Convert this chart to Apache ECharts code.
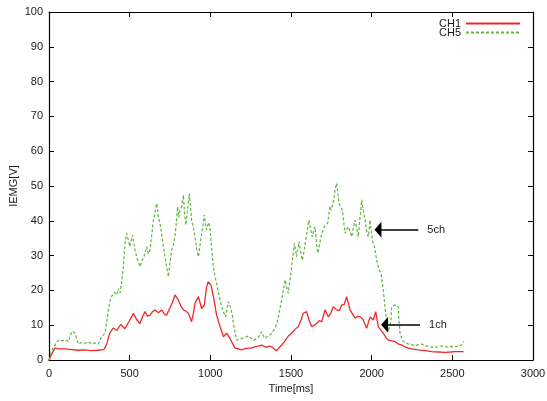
<!DOCTYPE html>
<html>
<head>
<meta charset="utf-8">
<script src="https://cdn.jsdelivr.net/npm/echarts@6/dist/echarts.min.js"></script>
<style>
  html, body { margin: 0; padding: 0; background: #fff; }
  #chart { width: 547px; height: 401px; }
</style>
</head>
<body>
<div id="chart"></div>
<script>
// Integrated EMG of two channels over time: [time (ms), IEMG (V)]
const ch1Samples = [
  [0,0],[20,2],[37,3.4],[60,3.2],[100,3.2],[140,3.0],[180,2.8],[220,2.9],[260,2.7],[300,2.8],
  [340,3.0],[357,4.5],[375,7.5],[397,9.2],[420,8.5],[445,10.2],[471,9.0],[495,11.0],[523,13.4],[545,11.5],
  [564,10.5],[580,12.5],[595,13.9],[610,12.6],[626,12.9],[640,13.8],[657,14.4],[678,13.6],[698,14.4],[715,13.2],
  [729,12.9],[740,14.0],[750,14.4],[765,16.5],[781,18.7],[802,17.2],[818,15.5],[833,14.4],[850,14.0],[864,13.4],
  [884,11.0],[895,13.5],[905,16.3],[926,18.2],[946,14.8],[963,15.8],[975,20.5],[986,22.5],[1004,21.6],[1019,18.2],
  [1039,12.9],[1060,9.6],[1081,6.7],[1101,7.7],[1122,6.2],[1140,4.5],[1153,3.4],[1175,3.2],[1194,2.9],[1215,3.3],
  [1236,3.4],[1256,3.5],[1277,3.8],[1298,4.0],[1318,4.3],[1335,3.9],[1349,3.6],[1365,4.0],[1380,3.8],[1395,3.2],
  [1411,2.7],[1426,3.5],[1442,4.3],[1458,5.2],[1473,6.2],[1490,7.2],[1504,7.7],[1525,8.8],[1545,9.6],[1560,11.2],
  [1576,13.4],[1597,13.9],[1612,11.5],[1628,9.6],[1645,10.0],[1659,10.5],[1675,11.3],[1690,11.0],[1711,14.4],[1731,12.4],
  [1747,13.5],[1762,15.3],[1783,14.4],[1800,14.2],[1814,15.8],[1830,16.0],[1845,18.2],[1866,14.4],[1882,13.2],[1897,12.0],
  [1912,12.6],[1928,12.4],[1945,11.8],[1969,9.1],[1990,12.4],[2010,11.5],[2025,13.9],[2041,9.6],[2058,8.5],[2072,7.7],
  [2088,6.5],[2103,5.7],[2125,5.5],[2145,5.3],[2165,4.6],[2186,4.3],[2206,3.8],[2227,3.4],[2258,3.1],[2289,2.9],
  [2330,2.7],[2372,2.4],[2414,2.3],[2455,2.2],[2490,2.3],[2517,2.4],[2545,2.4],[2570,2.4]
];

const ch5Samples = [
  [0,0],[20,3],[40,4.5],[58,5.7],[80,5.5],[99,5.9],[120,5.3],[135,7.5],[148,8.3],[161,7.7],
  [172,6.0],[182,4.6],[200,5.0],[223,4.8],[245,5.2],[264,4.6],[285,4.9],[306,4.6],[326,6.7],[347,7.7],
  [358,11],[368,14.4],[378,17],[388,18.2],[405,19.5],[419,18.7],[430,20.5],[440,19.2],[452,23],[461,26.8],
  [471,33.5],[481,36.4],[492,36.4],[502,32.6],[517,35.9],[533,31.6],[548,29],[564,26.8],[575,28.5],[585,29.2],
  [596,31],[606,32.6],[616,30.5],[626,31.6],[637,36],[647,40.2],[657,42.5],[668,45.0],[678,41],[688,39.3],
  [699,36],[709,32.6],[725,28],[740,23.9],[750,28],[760,31.6],[770,33],[781,35.4],[790,40],[797,44.1],
  [805,41],[812,43.1],[822,44],[833,47.4],[840,42],[849,38.8],[858,43],[870,47.9],[877,44],[884,40.2],
  [895,38],[905,35.4],[915,32],[926,29.7],[936,33],[946,36.4],[955,39],[963,41.7],[970,39],[977,37.4],
  [988,39.5],[998,38.3],[1008,32],[1019,26.8],[1029,24],[1039,22.0],[1050,19.5],[1060,17.2],[1070,15.5],[1081,13.9],
  [1089,13],[1095,12.4],[1103,14.5],[1112,16.8],[1120,16],[1128,15.8],[1136,13],[1143,10.5],[1153,8],[1163,5.7],
  [1178,6.0],[1194,6.2],[1215,6.5],[1236,6.9],[1250,6.3],[1267,5.7],[1283,6.0],[1298,6.5],[1310,7.4],[1318,8.1],
  [1328,7],[1339,6.2],[1355,6.8],[1370,7.2],[1385,8],[1401,9.1],[1412,10.5],[1422,12.4],[1432,15],[1442,17.2],
  [1452,20],[1463,23.0],[1473,21],[1483,19.2],[1494,23],[1504,26.8],[1512,30],[1521,33.5],[1535,29.7],[1550,34.0],
  [1560,31],[1570,28.7],[1580,31],[1591,34.5],[1600,37],[1611,40.2],[1622,37.5],[1632,35.4],[1640,37],[1649,38.3],
  [1657,34],[1666,30.7],[1676,33],[1686,35.4],[1696,37],[1706,38.3],[1717,38.5],[1727,39.3],[1735,42],[1742,44.1],
  [1749,43],[1756,43.1],[1765,46],[1773,48.9],[1783,50.8],[1790,48],[1798,45.0],[1808,44],[1818,43.1],[1826,40],
  [1835,36.4],[1845,37.5],[1855,38.3],[1866,37],[1876,35.4],[1887,38],[1897,40.2],[1907,38],[1917,35.4],[1928,41],
  [1938,46.0],[1948,43],[1959,40.2],[1969,37],[1979,35.4],[1990,40.2],[2004,34.5],[2017,32.6],[2031,28.7],[2046,25.9],
  [2058,24.9],[2065,22.5],[2072,20.1],[2080,16.5],[2087,13.4],[2095,10.5],[2103,8.1],[2114,7.7],[2119,11],[2124,15.3],
  [2135,15.6],[2145,15.8],[2155,15.6],[2165,15.3],[2170,11],[2176,7.7],[2186,6.2],[2196,5.3],[2210,5.0],[2227,4.6],
  [2248,4.4],[2269,4.1],[2290,4.4],[2310,4.6],[2330,4.2],[2351,3.8],[2372,3.7],[2393,3.6],[2414,3.9],[2434,4.0],
  [2455,3.8],[2475,3.8],[2496,3.9],[2517,3.8],[2538,4.0],[2558,4.3],[2570,5.3]
];

const seriesNames = ['CH1', 'CH5'];
const xTicks = { min: 0, max: 3000, step: 500 };
const yTicks = { min: 0, max: 100, step: 10 };

// Annotation arrows: [label, tail point, head point]
const annotations = [
  ['5ch', [2289, 37.4], [2039, 37.4]],
  ['1ch', [2300, 10.1], [2080, 10.1]]
];

const FONT = 'Liberation Sans, Arial, Helvetica, sans-serif';
const INK = '#1a1a1a';
const RED = '#f02828';
const GREEN = '#62b43c';

function frameAxis(pos, isX, withLabels, name) {
  const t = isX ? xTicks : yTicks;
  return {
    type: 'value',
    position: pos,
    min: t.min, max: t.max, interval: t.step,
    name: withLabels ? name : '',
    nameLocation: 'middle',
    nameGap: isX ? 23 : 30,
    nameMoveOverlap: false,
    nameTextStyle: { fontFamily: FONT, fontSize: 11, color: INK },
    axisLine: { show: true, onZero: false, lineStyle: { color: '#000', width: 1.2 } },
    axisTick: { show: true, inside: true, length: 5, lineStyle: { color: '#000', width: 1 } },
    axisLabel: {
      show: withLabels, fontFamily: FONT, fontSize: 11, color: INK,
      margin: isX ? 8 : 6,
      formatter: (v) => String(v)
    },
    splitLine: { show: false }
  };
}

function arrowLine(label, tail, head) {
  return [
    { coord: tail, label: { formatter: label } },
    { coord: head }
  ];
}

function arrowMarks(annotation) {
  return {
    silent: true,
    symbol: ['none', 'path://M0,10 L5,0 L10,10 Z'],
    symbolSize: [16, 7],
    lineStyle: { color: '#000', type: 'solid', width: 1.5 },
    itemStyle: { color: '#000' },
    label: { show: true, position: 'start', distance: 9, fontFamily: FONT, fontSize: 11, color: INK },
    data: [arrowLine(...annotation)]
  };
}

const chart = echarts.init(document.getElementById('chart'), null, { renderer: 'canvas' });

chart.setOption({
  animation: false,
  backgroundColor: '#fff',
  grid: { left: 49, right: 14, top: 12, bottom: 41, outerBoundsMode: 'none', containLabel: false },
  xAxis: [
    frameAxis('bottom', true, true, 'Time[ms]'),
    frameAxis('top', true, false, '')
  ],
  yAxis: [
    frameAxis('left', false, true, 'IEMG[V]'),
    frameAxis('right', false, false, '')
  ],
  legend: {
    data: seriesNames,
    orient: 'vertical',
    right: 21,
    top: 13,
    align: 'right',
    itemWidth: 54,
    itemHeight: 10,
    itemGap: -2,
    itemStyle: { opacity: 0 },
    textStyle: { fontFamily: FONT, fontSize: 11, lineHeight: 10, color: INK }
  },
  series: [
    {
      name: seriesNames[0],
      type: 'line',
      data: ch1Samples,
      showSymbol: false,
      symbol: 'none',
      lineStyle: { color: RED, width: 1.3 },
      itemStyle: { color: RED },
      markLine: arrowMarks(annotations[1])
    },
    {
      name: seriesNames[1],
      type: 'line',
      data: ch5Samples,
      showSymbol: false,
      symbol: 'none',
      lineStyle: { color: GREEN, width: 1.2, type: [3, 2] },
      itemStyle: { color: GREEN },
      markLine: arrowMarks(annotations[0])
    }
  ]
});
</script>
</body>
</html>
